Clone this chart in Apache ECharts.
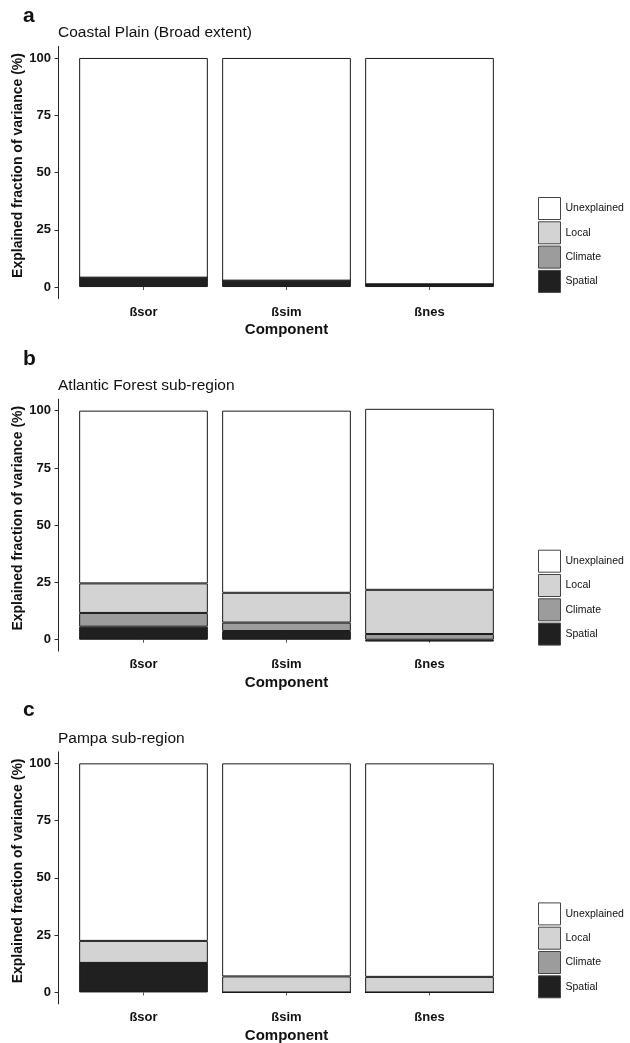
<!DOCTYPE html>
<html>
<head>
<meta charset="utf-8">
<script src="https://cdn.jsdelivr.net/npm/echarts@6/dist/echarts.min.js"></script>
<style>
html,body{margin:0;padding:0;background:#fff;}
#chart{width:630px;height:1043px;}
</style>
</head>
<body>
<div id="chart"></div>
<script>
const categories = ['ßsor', 'ßsim', 'ßnes'];
const panelLetters = ['a', 'b', 'c'];
const panelTitles = ['Coastal Plain (Broad extent)', 'Atlantic Forest sub-region', 'Pampa sub-region'];
const layerNames = ['Spatial', 'Climate', 'Local', 'Unexplained'];
const legendOrder = ['Unexplained', 'Local', 'Climate', 'Spatial'];
const yTicks = [0, 25, 50, 75, 100];

const coastalSpatial = [4.1, 2.8, 1.2];
const coastalClimate = [0, 0, 0];
const coastalLocal = [0, 0, 0];
const coastalUnexplained = [95.9, 97.2, 98.8];

const atlanticSpatial = [5.7, 3.8, -0.8];
const atlanticClimate = [6.0, 3.7, 2.5];
const atlanticLocal = [12.9, 13.0, 19.3];
const atlanticUnexplained = [75.4, 79.5, 79.0];

const pampaSpatial = [12.9, 0, 0];
const pampaClimate = [0, 0, 0];
const pampaLocal = [9.6, 7.0, 6.8];
const pampaUnexplained = [77.5, 93.0, 93.2];

const panels = [
  [coastalSpatial, coastalClimate, coastalLocal, coastalUnexplained],
  [atlanticSpatial, atlanticClimate, atlanticLocal, atlanticUnexplained],
  [pampaSpatial, pampaClimate, pampaLocal, pampaUnexplained]
];

const fills = { Spatial: '#202020', Climate: '#9c9c9c', Local: '#d3d3d3', Unexplained: '#ffffff' };
const FONT = '"Liberation Sans", Arial, sans-serif';
const STEP = 352.7;
const letterTops = [6, 349, 700];

const grids = [], xAxes = [], yAxes = [], series = [], titles = [], legends = [];
panels.forEach((layers, i) => {
  grids.push({ left: 72, width: 429, top: 46.5 + i * STEP, height: 252, containLabel: false, outerBoundsMode: 'none' });
  xAxes.push({
    type: 'category', gridIndex: i, data: categories,
    axisLine: { show: false },
    axisTick: { show: true, alignWithLabel: true, length: 3, lineStyle: { color: '#555' } },
    axisLabel: { margin: 7, fontSize: 13, fontWeight: 'bold', color: '#111', fontFamily: FONT },
    name: 'Component', nameLocation: 'middle', nameGap: 24, nameMoveOverlap: false,
    nameTextStyle: { fontSize: 15, fontWeight: 'bold', color: '#111', fontFamily: FONT }
  });
  yAxes.push({
    type: 'value', gridIndex: i, min: -5, max: 105, offset: 14,
    splitLine: { show: false },
    axisLine: { show: true, lineStyle: { color: '#222', width: 1 } },
    axisTick: { show: true, length: 3.5, customValues: yTicks, lineStyle: { color: '#333' } },
    axisLabel: { customValues: yTicks, margin: 7, fontSize: 13, fontWeight: 'bold', color: '#111', fontFamily: FONT },
    name: 'Explained fraction of variance (%)', nameLocation: 'middle', nameGap: 33, nameMoveOverlap: false,
    nameTextStyle: { fontSize: 14, fontWeight: 'bold', color: '#111', fontFamily: FONT, padding: [0, 0, 0, 14] }
  });
  layerNames.forEach((name, k) => {
    series.push({
      type: 'bar', name: name, xAxisIndex: i, yAxisIndex: i, stack: 'panel' + i,
      barWidth: '90%', data: layers[k],
      itemStyle: { color: fills[name], borderColor: '#1a1a1a', borderWidth: 1 },
      emphasis: { disabled: true }, animation: false
    });
  });
  titles.push({
    text: panelLetters[i], left: 23, top: letterTops[i], padding: 0,
    textStyle: { fontSize: 21, fontWeight: 'bold', color: '#111', fontFamily: FONT }
  });
  titles.push({
    text: panelTitles[i], left: 58, top: 25 + i * STEP, padding: 0,
    textStyle: { fontSize: 15.5, fontWeight: 'normal', color: '#111', fontFamily: FONT }
  });
  legends.push({
    orient: 'vertical', left: 538, top: 197 + i * STEP, padding: 0,
    itemWidth: 22, itemHeight: 22, itemGap: 1.3, icon: 'rect', selectedMode: false,
    data: legendOrder,
    itemStyle: { borderColor: '#444', borderWidth: 1 },
    textStyle: { fontSize: 10.5, color: '#111', fontFamily: FONT }
  });
});

const chart = echarts.init(document.getElementById('chart'), null, { renderer: 'canvas' });
chart.setOption({
  backgroundColor: '#ffffff',
  animation: false,
  title: titles,
  legend: legends,
  grid: grids,
  xAxis: xAxes,
  yAxis: yAxes,
  series: series
});
</script>
</body>
</html>
